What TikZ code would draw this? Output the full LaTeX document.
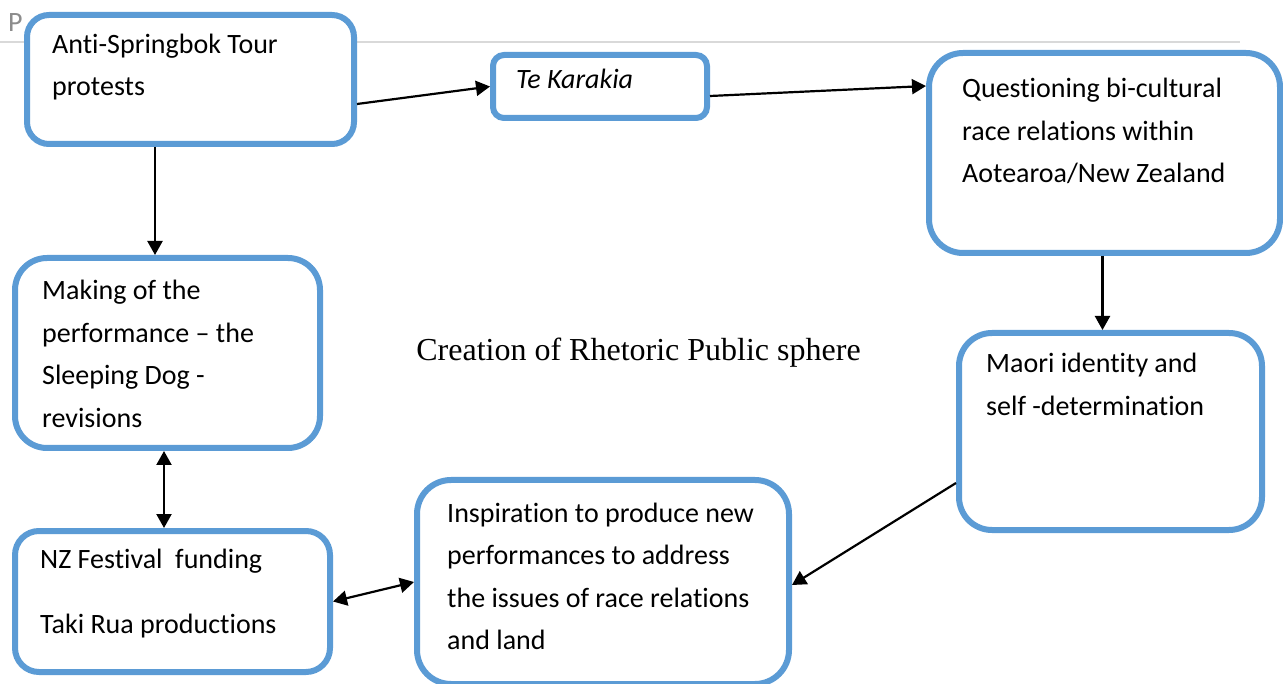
\documentclass[tikz,border=0pt]{standalone}
\usepackage{fontspec}
\setmainfont{Carlito}[Ligatures=NoCommon]
\newfontfamily\serifface{Liberation Serif}
\usetikzlibrary{arrows.meta}
\definecolor{boxblue}{HTML}{5B9BD5}
\definecolor{rulegrey}{HTML}{D9D9D9}
\definecolor{headgrey}{HTML}{8C8C8C}
\begin{document}
\begin{tikzpicture}[x=1pt,y=-1pt,
  box/.style={draw=boxblue,line width=6pt,fill=white,rectangle,inner sep=0pt},
  % texts are placed by the baseline of their last line
  txt/.style={anchor=base west,align=left,inner sep=0pt,font=\fontsize{28}{42.5}\selectfont},
  link/.style={line width=2.2pt,>={Triangle[length=14pt,width=15pt]}}]
\useasboundingbox (0,0) rectangle (1283,684);

% page header remnant
\draw[rulegrey,line width=2pt] (0,42) -- (1240,42);
\node[anchor=base west,inner sep=0pt,text=headgrey,font=\fontsize{28}{34}\selectfont] (pmark) at (8,32) {P};

% boxes
\node[box,rounded corners=22pt,minimum width=327pt,minimum height=129pt] (anti) at (190.5,79.5) {};
\node[box,rounded corners=11pt,minimum width=214pt,minimum height=63pt] (tek) at (600,86.5) {};
\node[box,rounded corners=34pt,minimum width=351pt,minimum height=200pt] (quest) at (1104.5,153) {};
\node[box,rounded corners=32pt,minimum width=305pt,minimum height=190pt] (making) at (167.5,353) {};
\node[box,rounded corners=33pt,minimum width=303pt,minimum height=197pt] (maori) at (1110.5,431.5) {};
\node[box,rounded corners=24pt,minimum width=315pt,minimum height=141pt] (nz) at (172.5,601.5) {};
\node[box,rounded corners=34pt,minimum width=372pt,minimum height=204pt] (insp) at (603,582) {};

% box texts
\node[txt] (antitext) at (52,96) {Anti-Springbok Tour\\protests};
\node[txt,font=\fontsize{28}{42.5}\selectfont\itshape] (tektext) at (516,89) {Te Karakia};
\node[txt] (questtext) at (962,183) {Questioning bi-cultural\\race relations within\\Aotearoa/New Zealand};
\node[txt] (makingtext) at (42,427.5) {Making of the\\performance – the\\Sleeping Dog -\\revisions};
\node[txt] (maoritext) at (986,415.5) {Maori identity and\\self -determination};
\node[txt] (insptext) at (447,649.5) {Inspiration to produce new\\performances to address\\the issues of race relations\\and land};
\node[txt] (nztext) at (40,633) {NZ Festival\ \ funding\\[22.5pt]Taki Rua productions};

% centre caption
\node[anchor=base,inner sep=0pt,font=\serifface\fontsize{32}{38}\selectfont] (title) at (638.5,361) {Creation of Rhetoric Public sphere};

% connectors
\draw[link,->] ([yshift=-24.5pt]anti.east) -- (tek.west);
\draw[link,->] ([yshift=-9.5pt]tek.east) -- ([yshift=67pt]quest.west);
\draw[link,->] ([xshift=-35.5pt]anti.south) -- ([xshift=-35.5pt]anti.south |- making.north);
\draw[link,->] ([xshift=-2pt]quest.south) -- ([xshift=-2pt]quest.south |- maori.north);
\draw[link,->] ([yshift=-51.5pt]maori.west) -- ([yshift=-3pt]insp.east);
\draw[link,<->] ([xshift=-3.5pt]making.south) -- ([xshift=-3.5pt]making.south |- nz.north);
\draw[link,<->] (nz.east) -- (insp.west);
\end{tikzpicture}
\end{document}
